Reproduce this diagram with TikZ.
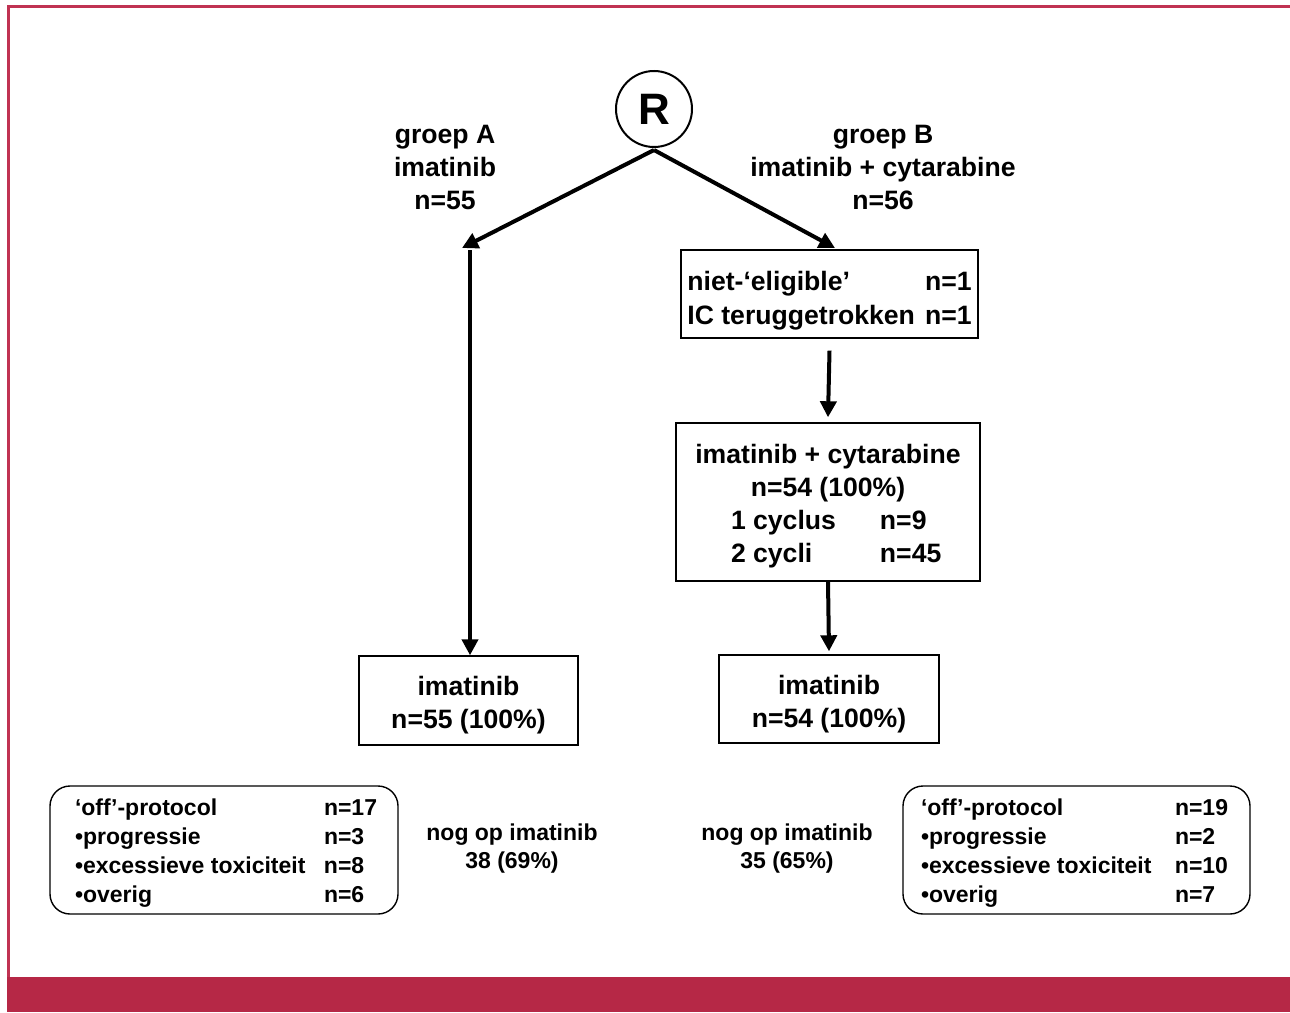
\documentclass[tikz,border=0pt]{standalone}
\usepackage{fontspec}
\setmainfont{Liberation Sans}
\usetikzlibrary{arrows.meta}
\definecolor{crim}{RGB}{182,40,70}
\definecolor{crimline}{RGB}{192,50,82}
\begin{document}
\begin{tikzpicture}[x=0.5pt,y=-0.5pt,
  mainfont/.style={font=\fontsize{13.3}{16.5}\selectfont\bfseries},
  smallfont/.style={font=\fontsize{11.5}{14.6}\selectfont\bfseries},
  box/.style={draw, line width=0.7pt, inner sep=0pt, rectangle, align=center, mainfont},
  rbox/.style={draw, line width=0.7pt, inner sep=0pt, rectangle, rounded corners=10pt, smallfont},
  lbl/.style={align=center, inner sep=0pt},
  conn/.style={line width=2pt, -{Triangle[length=8pt,width=8pt]}}]
\useasboundingbox (0,0) rectangle (1290,1012);
% frame
\fill[crim] (7,977) rectangle (1290,1012);
\draw[crimline, line width=1.4pt] (8.6,977) -- (8.6,6.3) -- (1290,6.3);

% randomisation
\node[circle, draw, line width=1pt, minimum size=38pt, inner sep=0pt,
      font=\fontsize{22}{26}\selectfont\bfseries] (R) at (654,109) {R};

% group labels
\node[lbl, mainfont] (gA) at (445,167) {groep A\\imatinib\\n=55};
\node[lbl, mainfont] (gB) at (883,167) {groep B\\imatinib + cytarabine\\n=56};

% boxes
\node[box, minimum width=109.5pt, minimum height=44.5pt] (bA) at (468.5,700.5)
  {\raisebox{-2.5pt}[\height][\depth]{\begin{tabular}{@{}c@{}}imatinib\\n=55 (100\%)\end{tabular}}};
\node[box, minimum width=148.5pt, minimum height=44pt] (b1) at (829.5,294)
  {\raisebox{-3.5pt}[\height][\depth]{\fontsize{13.3}{17}\selectfont\begin{tabular}{@{}l@{\hspace{5pt}}r@{}}niet-‘eligible’ & n=1\\IC teruggetrokken & n=1\end{tabular}}};
\node[box, minimum width=152pt, minimum height=79pt] (b2) at (828,502)
  {\raisebox{-2pt}[\height][\depth]{\begin{tabular}{@{}c@{}}
   imatinib + cytarabine\\
   n=54 (100\%)\\
   \hspace*{8.2pt}\makebox[74.5pt][l]{1 cyclus}\makebox[30.7pt][l]{n=9}\\
   \hspace*{8.2pt}\makebox[74.5pt][l]{2 cycli}\makebox[30.7pt][l]{n=45}
   \end{tabular}}};
\node[box, minimum width=110pt, minimum height=44pt] (b3) at (829,699)
  {\raisebox{-2.5pt}[\height][\depth]{\begin{tabular}{@{}c@{}}imatinib\\n=54 (100\%)\end{tabular}}};

% off-protocol boxes
\node[rbox, minimum width=174pt, minimum height=64pt] (oA) at (224,850)
  {\raisebox{-1.5pt}[\height][\depth]{\begin{tabular}{@{\hspace{2pt}}p{124.5pt}@{}p{26.5pt}@{}}
   ‘off’-protocol & n=17\\
   •progressie & n=3\\
   •excessieve toxiciteit & n=8\\
   •overig & n=6
   \end{tabular}}};
\node[rbox, minimum width=173.5pt, minimum height=64pt] (oB) at (1076.5,850)
  {\raisebox{-1.5pt}[\height][\depth]{\begin{tabular}{@{}p{127pt}@{}p{26.5pt}@{\hspace{2pt}}}
   ‘off’-protocol & n=19\\
   •progressie & n=2\\
   •excessieve toxiciteit & n=10\\
   •overig & n=7
   \end{tabular}}};

% remaining on imatinib
\node[lbl, font=\fontsize{11.5}{14}\selectfont\bfseries] (nA) at (512,849) {nog op imatinib\\38 (69\%)};
\node[lbl, font=\fontsize{11.5}{14}\selectfont\bfseries] (nB) at (787,849) {nog op imatinib\\35 (65\%)};

% connectors
\coordinate (aL) at (462,248);
\coordinate (aR) at (835,248);
\coordinate (vL) at (470,250);
\draw[conn] ([yshift=-1pt]R.south) -- (aL);
\draw[conn] ([yshift=-1pt]R.south) -- (aR);
\draw[conn] (vL) -- (vL |- bA.north);
\draw[conn] ([yshift=-6pt]b1.south) -- ([yshift=2.5pt]b2.north);
\draw[conn] (b2.south) -- ([yshift=1.5pt]b3.north);
\end{tikzpicture}
\end{document}
